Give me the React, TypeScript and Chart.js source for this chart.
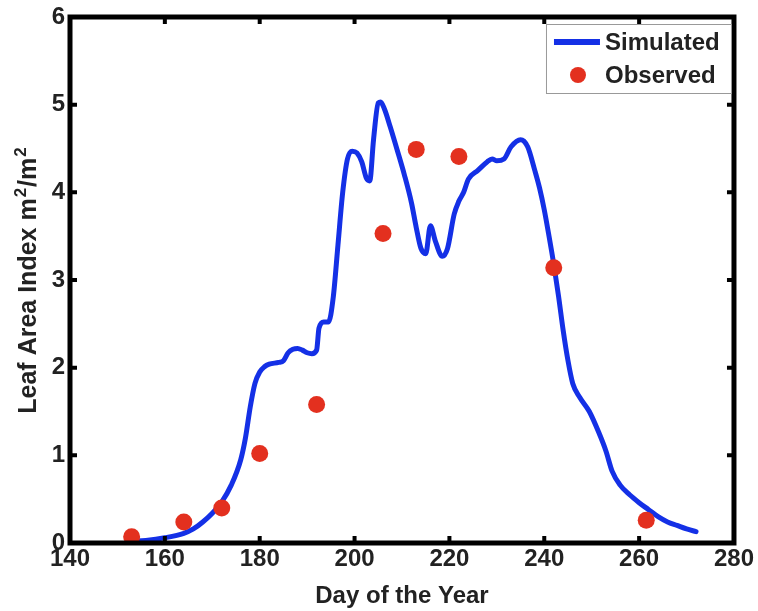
import React, { useEffect, useRef } from "react";
import { Chart, registerables } from "chart.js";

Chart.register(...registerables);

// ---- data ----
const simDays = [
  153, 156, 160, 164, 166, 168, 170, 172, 174, 176, 177, 178, 179, 180, 181, 182, 184, 185, 186, 187,
  188, 189, 190, 191, 192, 192.5, 193.5, 194.5, 195.5, 196.5, 197.5, 198.5, 199.5, 200.5, 201.5, 202.5,
  203.2, 204, 205, 205.5, 206.3, 207.5, 209, 210.5, 212, 213, 214, 215, 216, 217, 218.5, 219.6, 221, 222,
  223, 224, 226, 228, 229, 230, 231.5, 233, 235, 236.5, 238, 239, 240, 241, 242, 243, 244, 245, 246,
  247.5, 249.5, 251.5, 253, 254.3, 256, 258, 260, 262, 264, 266, 268, 270, 272,
];
const simLai = [
  0.02, 0.03, 0.06, 0.11, 0.16, 0.24, 0.34, 0.47, 0.66, 0.95, 1.2, 1.55, 1.82, 1.95, 2.01, 2.04, 2.06, 2.08, 2.17, 2.21,
  2.22, 2.2, 2.17, 2.16, 2.2, 2.45, 2.52, 2.52, 2.8, 3.4, 4.0, 4.38, 4.47, 4.45, 4.35, 4.16,
  4.13, 4.6, 5.02, 5.03, 4.95, 4.75, 4.48, 4.2, 3.88, 3.6, 3.36, 3.3, 3.62, 3.45, 3.27, 3.36, 3.75, 3.9,
  4.0, 4.15, 4.25, 4.35, 4.38, 4.36, 4.38, 4.52, 4.6, 4.52, 4.25, 4.05, 3.8, 3.5, 3.18, 2.82, 2.42, 2.08, 1.82,
  1.66, 1.5, 1.26, 1.05, 0.82, 0.66, 0.55, 0.46, 0.38, 0.3, 0.24, 0.2, 0.16, 0.13,
];
const obsDays = [153, 164, 172, 180, 192, 206, 213, 222, 242, 261.5];
const obsLai = [0.07, 0.24, 0.4, 1.02, 1.58, 3.53, 4.49, 4.41, 3.14, 0.26];

const xTicks = [140, 160, 180, 200, 220, 240, 260, 280];
const yTicks = [0, 1, 2, 3, 4, 5, 6];
const seriesNames = ["Simulated", "Observed"];
const xTitle = "Day of the Year";
// y title pieces: [text, isSuperscript]
const yTitleParts: [string, boolean][] = [
  ["Leaf Area Index m", false],
  ["2", true],
  ["/m", false],
  ["2", true],
];

const BLUE = "#1430e6";
const RED = "#e3301f";
const TEXT = "#222";
const FONT = "'Liberation Sans', Arial, sans-serif";

const framePlugin = {
  id: "frameAndLegend",
  afterDatasetsDraw(chart: any) {
    const { ctx, chartArea, scales } = chart;
    const { left, right, top, bottom } = chartArea;
    const x = scales.x;
    const y = scales.y;
    ctx.save();
    ctx.strokeStyle = "#000";
    ctx.lineCap = "butt";
    ctx.lineWidth = 4;
    const tl = 7;
    ctx.beginPath();
    for (const v of xTicks) {
      const px = x.getPixelForValue(v);
      ctx.moveTo(px, bottom);
      ctx.lineTo(px, bottom - tl);
      ctx.moveTo(px, top);
      ctx.lineTo(px, top + tl);
    }
    for (const v of yTicks) {
      const py = y.getPixelForValue(v);
      ctx.moveTo(left, py);
      ctx.lineTo(left + tl, py);
      ctx.moveTo(right, py);
      ctx.lineTo(right - tl, py);
    }
    ctx.stroke();
    ctx.lineWidth = 5;
    ctx.strokeRect(left, top, right - left, bottom - top);

    // legend box
    const bx = right - 188;
    const by = top + 7;
    const bw = 185;
    const bh = 69;
    ctx.fillStyle = "#fff";
    ctx.fillRect(bx, by, bw, bh);
    ctx.lineWidth = 1;
    ctx.strokeStyle = "#999";
    ctx.strokeRect(bx + 0.5, by + 0.5, bw, bh);

    ctx.strokeStyle = BLUE;
    ctx.lineWidth = 6;
    ctx.beginPath();
    ctx.moveTo(bx + 8, by + 18);
    ctx.lineTo(bx + 54, by + 18);
    ctx.stroke();

    ctx.fillStyle = RED;
    ctx.beginPath();
    ctx.arc(bx + 32, by + 51, 8, 0, Math.PI * 2);
    ctx.fill();

    ctx.fillStyle = TEXT;
    ctx.font = `bold 24px ${FONT}`;
    ctx.textAlign = "left";
    ctx.textBaseline = "middle";
    ctx.fillText(seriesNames[0], bx + 59, by + 19);
    ctx.fillText(seriesNames[1], bx + 59, by + 52);

    // y axis title with superscripts
    const mainFont = `bold 25px ${FONT}`;
    const supFont = `bold 17px ${FONT}`;
    let total = 0;
    const widths: number[] = [];
    for (const [t, sup] of yTitleParts) {
      ctx.font = sup ? supFont : mainFont;
      const w = ctx.measureText(t).width + (sup ? 2 : 0);
      widths.push(w);
      total += w;
    }
    ctx.translate(36, (top + bottom) / 2);
    ctx.rotate(-Math.PI / 2);
    ctx.textBaseline = "alphabetic";
    let cx = -total / 2;
    yTitleParts.forEach(([t, sup], i) => {
      ctx.font = sup ? supFont : mainFont;
      ctx.fillText(t, cx + (sup ? 1 : 0), sup ? -10 : 0);
      cx += widths[i];
    });
    ctx.restore();
  },
};

export default function App() {
  const ref = useRef<HTMLCanvasElement | null>(null);
  useEffect(() => {
    if (!ref.current) return;
    const chart = new Chart(ref.current, {
      type: "scatter",
      data: {
        datasets: [
          {
            label: seriesNames[1],
            data: obsDays.map((d, i) => ({ x: d, y: obsLai[i] })),
            backgroundColor: RED,
            borderColor: RED,
            pointRadius: 8.5,
            pointBorderWidth: 0,
            showLine: false,
            order: 0,
          },
          {
            label: seriesNames[0],
            data: simDays.map((d, i) => ({ x: d, y: simLai[i] })),
            borderColor: BLUE,
            backgroundColor: BLUE,
            borderWidth: 5,
            pointRadius: 0,
            showLine: true,
            cubicInterpolationMode: "monotone",
            borderJoinStyle: "round",
            borderCapStyle: "round",
            order: 1,
          },
        ],
      },
      options: {
        animation: false,
        responsive: false,
        layout: { padding: { top: 15, right: 22, left: 0, bottom: 0 } },
        plugins: { legend: { display: false }, tooltip: { enabled: false } },
        scales: {
          x: {
            type: "linear",
            min: 140,
            max: 280,
            afterBuildTicks: (s: any) => {
              s.ticks = xTicks.map((v) => ({ value: v }));
            },
            afterFit: (s: any) => {
              s.height = 68;
            },
            grid: { display: false, drawTicks: false },
            border: { display: false },
            ticks: {
              padding: 4,
              color: TEXT,
              font: { family: FONT, size: 24, weight: "bold", lineHeight: 1 },
              maxRotation: 0,
            },
            title: {
              display: true,
              text: xTitle,
              color: TEXT,
              font: { family: FONT, size: 24, weight: "bold" },
              padding: { top: 0, bottom: 0 },
            },
          },
          y: {
            type: "linear",
            min: 0,
            max: 6,
            afterBuildTicks: (s: any) => {
              s.ticks = yTicks.map((v) => ({ value: v }));
            },
            afterFit: (s: any) => {
              s.width = 70;
            },
            grid: { display: false, drawTicks: false },
            border: { display: false },
            ticks: {
              padding: 5,
              color: TEXT,
              font: { family: FONT, size: 24, weight: "bold", lineHeight: 1 },
            },
            title: { display: false },
          },
        },
      },
      plugins: [framePlugin],
    } as any);
    return () => chart.destroy();
  }, []);
  return (
    <div style={{ position: "fixed", left: 0, top: 0, width: 758, height: 611, background: "#fff" }}>
      <canvas ref={ref} width={758} height={611} style={{ display: "block" }} />
    </div>
  );
}
